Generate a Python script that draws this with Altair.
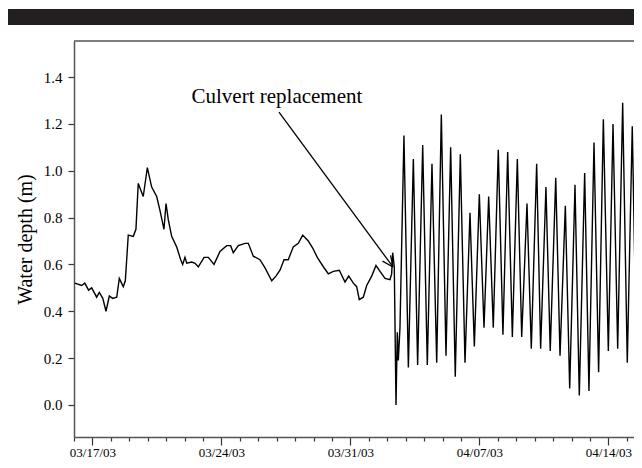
import altair as alt
import pandas as pd

# ---- data (time, water depth in m) ----
times = [
    "2003-03-16T01:00", "2003-03-16T10:00", "2003-03-16T14:00", "2003-03-16T19:00",
    "2003-03-16T23:00", "2003-03-17T05:30", "2003-03-17T09:00", "2003-03-17T13:30",
    "2003-03-17T17:40", "2003-03-17T22:00", "2003-03-18T02:20", "2003-03-18T07:40",
    "2003-03-18T11:00", "2003-03-18T16:10", "2003-03-18T18:50", "2003-03-18T22:40",
    "2003-03-19T05:10", "2003-03-19T08:40", "2003-03-19T11:40", "2003-03-19T18:10",
    "2003-03-19T23:30", "2003-03-20T05:10", "2003-03-20T11:40", "2003-03-20T16:00",
    "2003-03-20T21:10", "2003-03-20T23:50", "2003-03-21T02:50", "2003-03-21T07:10",
    "2003-03-21T13:40", "2003-03-21T18:55", "2003-03-21T21:30", "2003-03-22T00:30",
    "2003-03-22T02:50", "2003-03-22T09:20", "2003-03-22T13:35", "2003-03-22T17:55",
    "2003-03-23T01:20", "2003-03-23T06:55", "2003-03-23T14:20", "2003-03-23T22:05",
    "2003-03-24T06:50", "2003-03-24T12:00", "2003-03-24T15:25", "2003-03-24T22:00",
    "2003-03-25T06:40", "2003-03-25T11:00", "2003-03-25T17:30", "2003-03-26T02:10",
    "2003-03-26T08:45", "2003-03-26T17:30", "2003-03-26T23:00", "2003-03-27T04:15",
    "2003-03-27T09:30", "2003-03-27T15:00", "2003-03-27T21:35", "2003-03-28T04:05",
    "2003-03-28T09:50", "2003-03-28T17:05", "2003-03-28T22:50", "2003-03-29T04:50",
    "2003-03-29T12:40", "2003-03-29T19:10", "2003-03-30T01:40", "2003-03-30T09:30",
    "2003-03-30T16:55", "2003-03-30T21:45", "2003-03-31T03:45", "2003-03-31T08:05",
    "2003-03-31T11:30", "2003-03-31T16:45", "2003-03-31T21:10", "2003-04-01T03:40",
    "2003-04-01T09:15", "2003-04-01T14:30", "2003-04-01T21:00", "2003-04-02T03:30",
    "2003-04-02T05:40", "2003-04-02T07:00", "2003-04-02T09:05", "2003-04-02T11:20",
    "2003-04-02T13:00", "2003-04-02T14:20", "2003-04-02T16:30",
    # tidal regime after culvert replacement (peaks / troughs)
    "2003-04-02T21:40", "2003-04-03T03:25", "2003-04-03T09:55", "2003-04-03T15:30",
    "2003-04-03T22:05", "2003-04-04T04:05", "2003-04-04T10:10", "2003-04-04T16:20",
    "2003-04-04T22:20", "2003-04-05T04:25", "2003-04-05T10:30", "2003-04-05T16:30",
    "2003-04-05T23:05", "2003-04-06T05:10", "2003-04-06T11:40", "2003-04-06T17:20",
    "2003-04-06T23:50", "2003-04-07T05:55", "2003-04-07T12:00", "2003-04-07T18:00",
    "2003-04-08T00:30", "2003-04-08T06:35", "2003-04-08T12:45", "2003-04-08T18:50",
    "2003-04-09T01:20", "2003-04-09T07:00", "2003-04-09T13:55", "2003-04-09T19:30",
    "2003-04-10T02:30", "2003-04-10T07:40", "2003-04-10T14:35", "2003-04-10T20:10",
    "2003-04-11T03:20", "2003-04-11T08:55", "2003-04-11T15:50", "2003-04-11T21:30",
    "2003-04-12T04:25", "2003-04-12T10:00", "2003-04-12T17:00", "2003-04-12T22:35",
    "2003-04-13T05:10", "2003-04-13T11:10", "2003-04-13T17:20", "2003-04-13T23:50",
    "2003-04-14T05:55", "2003-04-14T12:00", "2003-04-14T18:30", "2003-04-15T00:30",
    "2003-04-15T07:00", "2003-04-15T13:05", "2003-04-15T19:10",
]
depth = [
    0.52, 0.51, 0.52, 0.49,
    0.50, 0.46, 0.48, 0.455,
    0.40, 0.465, 0.455, 0.46,
    0.54, 0.505, 0.53, 0.725,
    0.72, 0.75, 0.946, 0.89,
    1.013, 0.93, 0.89, 0.83,
    0.75, 0.86, 0.79, 0.72,
    0.675, 0.62, 0.60, 0.63,
    0.605, 0.61, 0.605, 0.59,
    0.63, 0.63, 0.60, 0.655,
    0.68, 0.68, 0.65, 0.68,
    0.69, 0.69, 0.635, 0.62,
    0.585, 0.53, 0.55, 0.575,
    0.62, 0.62, 0.675, 0.69,
    0.725, 0.70, 0.67, 0.63,
    0.59, 0.56, 0.57, 0.575,
    0.525, 0.55, 0.52, 0.505,
    0.45, 0.46, 0.51, 0.55,
    0.595, 0.57, 0.54, 0.535,
    0.56, 0.65, 0.59, 0.0,
    0.31, 0.19, 0.33,
    1.15, 0.16, 1.05, 0.17,
    1.11, 0.17, 1.03, 0.18,
    1.24, 0.21, 1.10, 0.12,
    1.07, 0.18, 0.82, 0.25,
    0.90, 0.33, 0.89, 0.33,
    1.09, 0.30, 1.08, 0.29,
    1.05, 0.29, 0.86, 0.24,
    1.03, 0.24, 0.93, 0.23,
    0.97, 0.21, 0.85, 0.07,
    0.94, 0.04, 0.99, 0.06,
    1.12, 0.14, 1.22, 0.23,
    1.20, 0.24, 1.29, 0.18,
    1.19, 0.09, 1.30,
]

y_ticks = [0.0, 0.2, 0.4, 0.6, 0.8, 1.0, 1.2, 1.4]

# annotation
note_text = ["Culvert replacement"]
note_time = ["2003-03-22T09:00"]
note_depth = [1.315]

# arrow segments: shaft + two head wings (start -> end)
arrow_t1 = ["2003-03-27T02:57", "2003-04-01T17:45", "2003-04-02T04:15"]
arrow_d1 = [1.25, 0.614, 0.639]
arrow_t2 = ["2003-04-02T07:24", "2003-04-02T07:24", "2003-04-02T07:24"]
arrow_d2 = [0.589, 0.589, 0.589]

W, H = 560, 396
PAD = {"left": 66, "top": 33, "right": 0, "bottom": 21}
FONT = "Liberation Serif"
FRAME = "#555555"

df = pd.DataFrame({"time": times, "depth": depth})
notes = pd.DataFrame({"time": note_time, "depth": note_depth, "text": note_text})
arrows = pd.DataFrame({"time": arrow_t1, "depth": arrow_d1, "time2": arrow_t2, "depth2": arrow_d2})
one = pd.DataFrame({"k": [0]})

day_values = []
for d in range(16, 32):
    day_values.append(alt.DateTime(year=2003, month=3, date=d))
for d in range(1, 16):
    day_values.append(alt.DateTime(year=2003, month=4, date=d))

x_scale = alt.Scale(
    domain=[alt.DateTime(year=2003, month=3, date=16),
            alt.DateTime(year=2003, month=4, date=15, hours=9, minutes=15)],
    nice=False,
)
y_scale = alt.Scale(domain=[-0.137, 1.554], nice=False, zero=False)

x_axis = alt.Axis(
    title=None,
    values=day_values,
    format="%m/%d/%y",
    labelExpr="day(datum.value) == 1 ? datum.label : ''",
    tickSize={"condition": {"test": "day(datum.value) == 1", "value": 8}, "value": 4},
    labelFontSize=13,
    labelPadding=1,
    labelOverlap=False,
    labelFlush=False,
    labelBound=False,
    grid=False,
)
y_axis = alt.Axis(
    title="Water depth (m)",
    values=y_ticks,
    format=".1f",
    tickSize=6,
    labelFontSize=15,
    labelPadding=6,
    titleFontSize=20,
    titlePadding=8,
    grid=False,
)

X = alt.X("time:T", scale=x_scale, axis=x_axis)
Y = alt.Y("depth:Q", scale=y_scale, axis=y_axis)

line = alt.Chart(df).mark_line(color="#000000", strokeWidth=1.4, clip=True).encode(x=X, y=Y)

text = alt.Chart(notes).mark_text(
    align="left", baseline="middle", font=FONT, fontSize=21, color="#000000"
).encode(x=X, y=Y, text="text:N")

arrow = alt.Chart(arrows).mark_rule(color="#000000", strokeWidth=1.3).encode(
    x=X, y=Y, x2="time2:T", y2="depth2:Q"
)

# top border of the frame (right side is cut off in the original)
top_border = alt.Chart(one).mark_rule(color=FRAME, strokeWidth=1.5).encode(
    x=alt.value(0), x2=alt.value(W), y=alt.value(0)
)

header = alt.Chart(one).mark_rect(color="#231f20").encode(
    x=alt.value(-66), x2=alt.value(W), y=alt.value(-32), y2=alt.value(-16)
)

chart = (
    alt.layer(line, arrow, text, top_border, header)
    .properties(
        width=W,
        height=H,
        autosize=alt.AutoSizeParams(type="none"),
        padding=PAD,
        background="white",
    )
    .configure_axis(
        labelFont=FONT,
        titleFont=FONT,
        labelColor="#000000",
        titleColor="#000000",
        titleFontWeight="normal",
        domainColor=FRAME,
        domainWidth=1.5,
        tickColor="#333333",
        tickWidth=1.2,
    )
    .configure_view(strokeWidth=0)
)

chart.save("out.html", embed_options={"renderer": "svg", "actions": False})
